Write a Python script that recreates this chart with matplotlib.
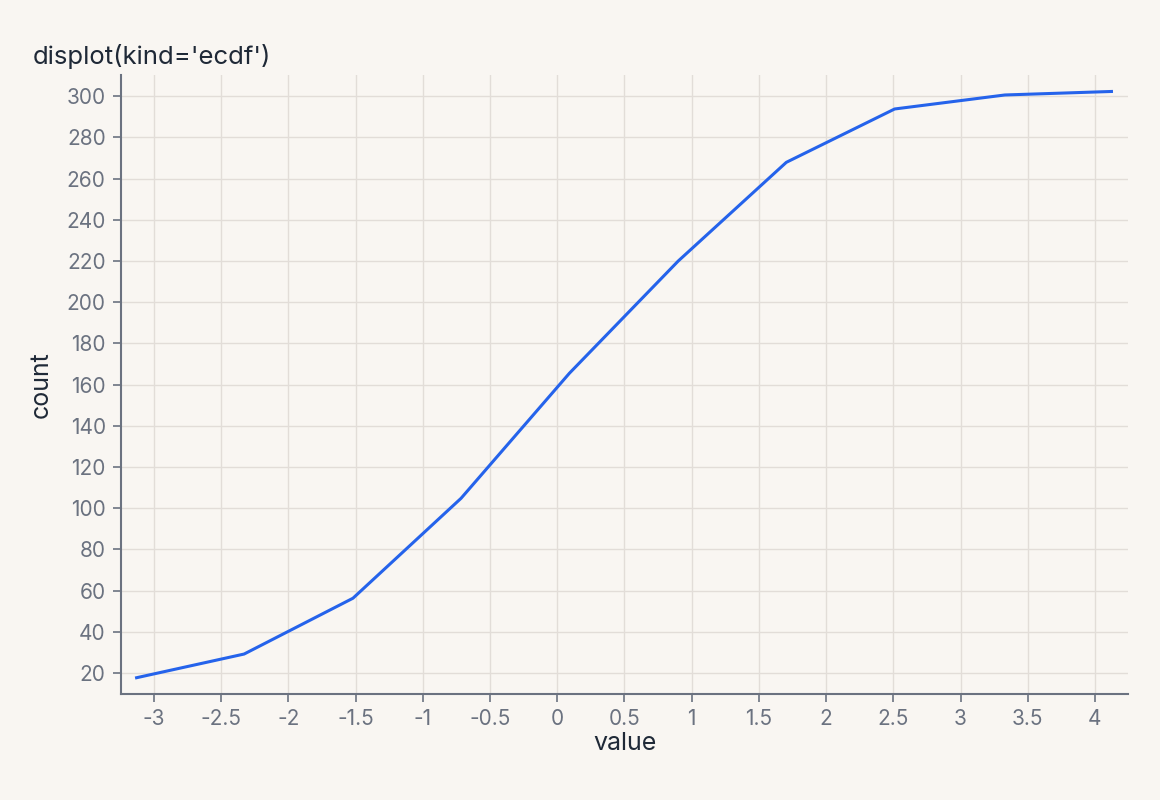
import matplotlib.pyplot as plt

# ECDF curve
values = [-3.13, -2.33, -1.52, -0.716, 0.09, 0.90, 1.704, 2.51, 3.33, 4.123]
counts = [17.7, 29.2, 56.3, 104.8, 165.5, 220.0, 267.9, 293.8, 300.6, 302.3]

x_ticks = [-3, -2.5, -2, -1.5, -1, -0.5, 0, 0.5, 1, 1.5, 2, 2.5, 3, 3.5, 4]
x_labels = ['-3', '-2.5', '-2', '-1.5', '-1', '-0.5', '0', '0.5', '1', '1.5', '2', '2.5', '3', '3.5', '4']
y_ticks = list(range(20, 301, 20))

bg = '#f9f6f2'
axis_col = '#6b7280'
text_col = '#1f2937'

plt.rcParams['font.family'] = ['Inter', 'DejaVu Sans']

fig = plt.figure(figsize=(11.6, 8), dpi=100, facecolor=bg)
ax = fig.add_axes([0.1043, 0.1325, 0.8681, 0.7735], facecolor=bg)

ax.plot(values, counts, color='#2563eb', linewidth=2.2)

ax.set_xlim(-3.246, 4.246)
ax.set_ylim(9.8, 310.2)
ax.set_xticks(x_ticks)
ax.set_xticklabels(x_labels)
ax.set_yticks(y_ticks)

ax.grid(True, color='#e2ddd8', linewidth=1)
ax.set_axisbelow(True)

for side in ['top', 'right']:
    ax.spines[side].set_visible(False)
for side in ['left', 'bottom']:
    ax.spines[side].set_color(axis_col)
    ax.spines[side].set_linewidth(1.5)

ax.tick_params(colors=axis_col, labelsize=15, length=6, width=1.2, pad=5)

ax.set_xlabel('value', fontsize=18, color=text_col, labelpad=2)
ax.set_ylabel('count', fontsize=18, color=text_col, labelpad=10)

fig.text(33 / 1160, 1 - 64 / 800, "displot(kind='ecdf')", fontsize=18.5,
         color=text_col, ha='left', va='baseline')

fig.savefig('out.png', dpi=100, facecolor=bg)
